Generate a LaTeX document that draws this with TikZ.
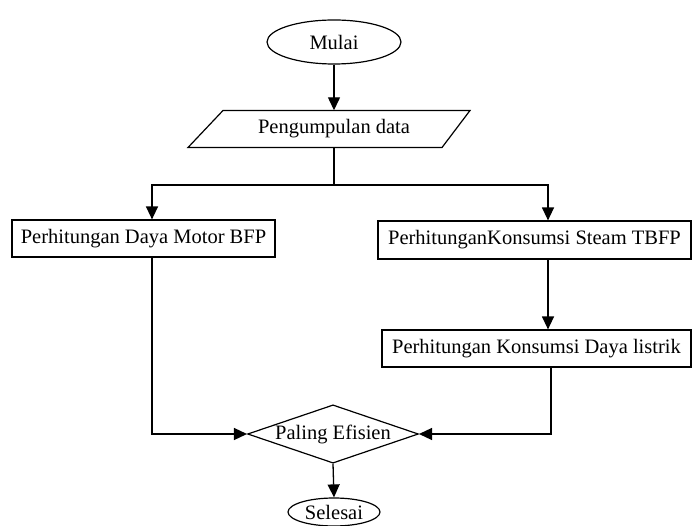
\documentclass[tikz,border=0pt]{standalone}
\usepackage{fontspec}
\setmainfont{Liberation Serif}
\usetikzlibrary{shapes.geometric,arrows.meta}
\begin{document}
\begin{tikzpicture}[x=1pt,y=-1pt,
  every node/.style={font=\fontsize{20.5}{22}\selectfont},
  box/.style={draw,line width=1.2pt,rectangle,inner sep=0pt,minimum height=37pt},
  term/.style={draw,line width=1.2pt,ellipse,inner sep=0pt},
  decision/.style={draw,line width=1.2pt,diamond,inner sep=0pt,shape aspect=2.93,minimum width=170pt,minimum height=58pt},
  conn/.style={line width=1.3pt},
  arr/.style={line width=1.3pt,-{Triangle[length=13pt,width=12pt]}}]
\useasboundingbox (0,0) rectangle (692,526);
\node[term,minimum width=134pt,minimum height=44pt] (mulai) at (334,42) {Mulai};
\node[inner sep=0pt,minimum width=250pt,minimum height=37pt] (data) at (334,129) {Pengumpulan data};
\draw[line width=1.2pt] (data.center) ++(-111,-18.5) -- ++(247,0) -- ++(-28,37) -- ++(-254,0) -- cycle;
\node[box,minimum width=263pt] (bfp) at (143.5,238.5) {Perhitungan Daya Motor BFP};
\node[box,minimum width=313pt,minimum height=38pt] (tbfp) at (534.5,240) {PerhitunganKonsumsi Steam TBFP};
\node[box,minimum width=309pt] (listrik) at (536.5,348.5) {Perhitungan Konsumsi Daya listrik};
\node[decision] (eff) at (333,434) {Paling Efisien};
\node[term,minimum width=92pt,minimum height=28pt] (selesai) at (334,512) {Selesai};
\coordinate (split) at (334,185);
\draw[arr] (mulai.south) -- (data.north);
\draw[conn] (data.south) -- (split);
\draw[arr] (split) -| ([xshift=8.5pt]bfp.north);
\draw[arr] (split) -| ([xshift=13.5pt]tbfp.north);
\draw[arr] ([xshift=13.5pt]tbfp.south) -- ([xshift=13.5pt]tbfp.south |- listrik.north);
\draw[arr] ([xshift=8.5pt]bfp.south) |- (eff.west);
\draw[arr] ([xshift=14.5pt]listrik.south) |- (eff.east);
\draw[arr] (eff.south) -- (selesai.north);
\end{tikzpicture}
\end{document}
